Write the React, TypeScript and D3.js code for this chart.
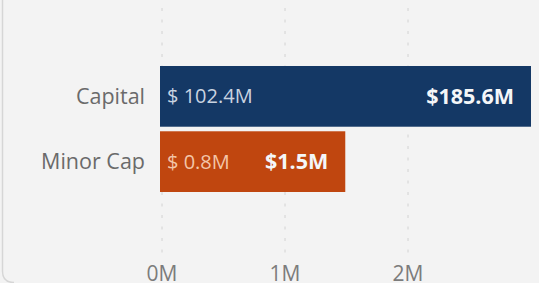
import React, { useEffect, useRef } from "react";
import * as d3 from "d3";

// data
const categories = ["Capital", "Minor Cap"];
const barValues = [3.0, 1.49]; // bar length on the M axis
const leftLabels = ["$ 102.4M", "$ 0.8M"];
const rightLabels = ["$185.6M", "$1.5M"];
const barColors = ["#143865", "#c0460f"];
const leftLabelColors = ["#c9d3e0", "#f3c5a8"];
const tickValues = [0, 1, 2];

const W = 539;
const H = 283;

export default function App() {
  const ref = useRef<SVGSVGElement>(null);

  useEffect(() => {
    const svg = d3.select(ref.current);
    svg.selectAll("*").remove();

    var x = d3.scaleLinear().domain([0, 3]).range([162, 531]);
    var y = d3
      .scaleBand()
      .domain(categories)
      .range([66, 192])
      .paddingInner(0.07);

    // background card
    svg.append("rect").attr("width", W).attr("height", H).attr("fill", "#f3f3f3");
    svg
      .append("path")
      .attr("d", "M2.5,0 V" + (H - 12) + " Q2.5," + (H - 0.5) + " 14," + (H - 0.5))
      .attr("fill", "none")
      .attr("stroke", "#d6d6d6")
      .attr("stroke-width", 1.5);

    // dotted gridlines
    svg
      .selectAll(".grid")
      .data(tickValues)
      .enter()
      .append("line")
      .attr("x1", (d) => x(d))
      .attr("x2", (d) => x(d))
      .attr("y1", 8)
      .attr("y2", 254)
      .attr("stroke", "#d2d2d2")
      .attr("stroke-width", 1)
      .attr("stroke-dasharray", "3,8.5");

    // tick labels (sit on the bottom edge as in the reference)
    svg
      .selectAll(".tick")
      .data(tickValues)
      .enter()
      .append("text")
      .attr("x", (d) => x(d))
      .attr("y", 281)
      .attr("text-anchor", "middle")
      .attr("font-family", "Open Sans, sans-serif")
      .attr("font-size", 21)
      .attr("fill", "#7c7c7c")
      .text((d) => d + "M");

    const rows = categories.map((c, i) => ({
      cat: c,
      v: barValues[i],
      left: leftLabels[i],
      right: rightLabels[i],
      color: barColors[i],
      lc: leftLabelColors[i],
    }));

    // bars
    svg
      .selectAll(".bar")
      .data(rows)
      .enter()
      .append("rect")
      .attr("x", x(0) - 2)
      .attr("y", (d) => y(d.cat)!)
      .attr("width", (d) => x(d.v) - x(0) + 2)
      .attr("height", y.bandwidth())
      .attr("fill", (d) => d.color);

    // category labels
    svg
      .selectAll(".cat")
      .data(rows)
      .enter()
      .append("text")
      .attr("x", 145)
      .attr("y", (d) => y(d.cat)! + y.bandwidth() / 2)
      .attr("dy", "0.35em")
      .attr("text-anchor", "end")
      .attr("font-family", "Open Sans, sans-serif")
      .attr("font-size", 21.5)
      .attr("fill", "#6a6a6a")
      .text((d) => d.cat);

    // inside labels
    svg
      .selectAll(".lab1")
      .data(rows)
      .enter()
      .append("text")
      .attr("x", x(0) + 5)
      .attr("y", (d) => y(d.cat)! + y.bandwidth() / 2)
      .attr("dy", "0.35em")
      .attr("font-family", "Open Sans, sans-serif")
      .attr("font-size", 20)
      .attr("fill", (d) => d.lc)
      .text((d) => d.left);

    svg
      .selectAll(".lab2")
      .data(rows)
      .enter()
      .append("text")
      .attr("x", (d) => x(d.v) - 17)
      .attr("y", (d) => y(d.cat)! + y.bandwidth() / 2)
      .attr("dy", "0.35em")
      .attr("text-anchor", "end")
      .attr("font-family", "Open Sans, sans-serif")
      .attr("font-weight", "bold")
      .attr("font-size", 21.5)
      .attr("fill", "#f4f6f8")
      .text((d) => d.right);
  }, []);

  return (
    <svg
      ref={ref}
      width={W}
      height={H}
      style={{ position: "fixed", left: 0, top: 0 }}
    />
  );
}
